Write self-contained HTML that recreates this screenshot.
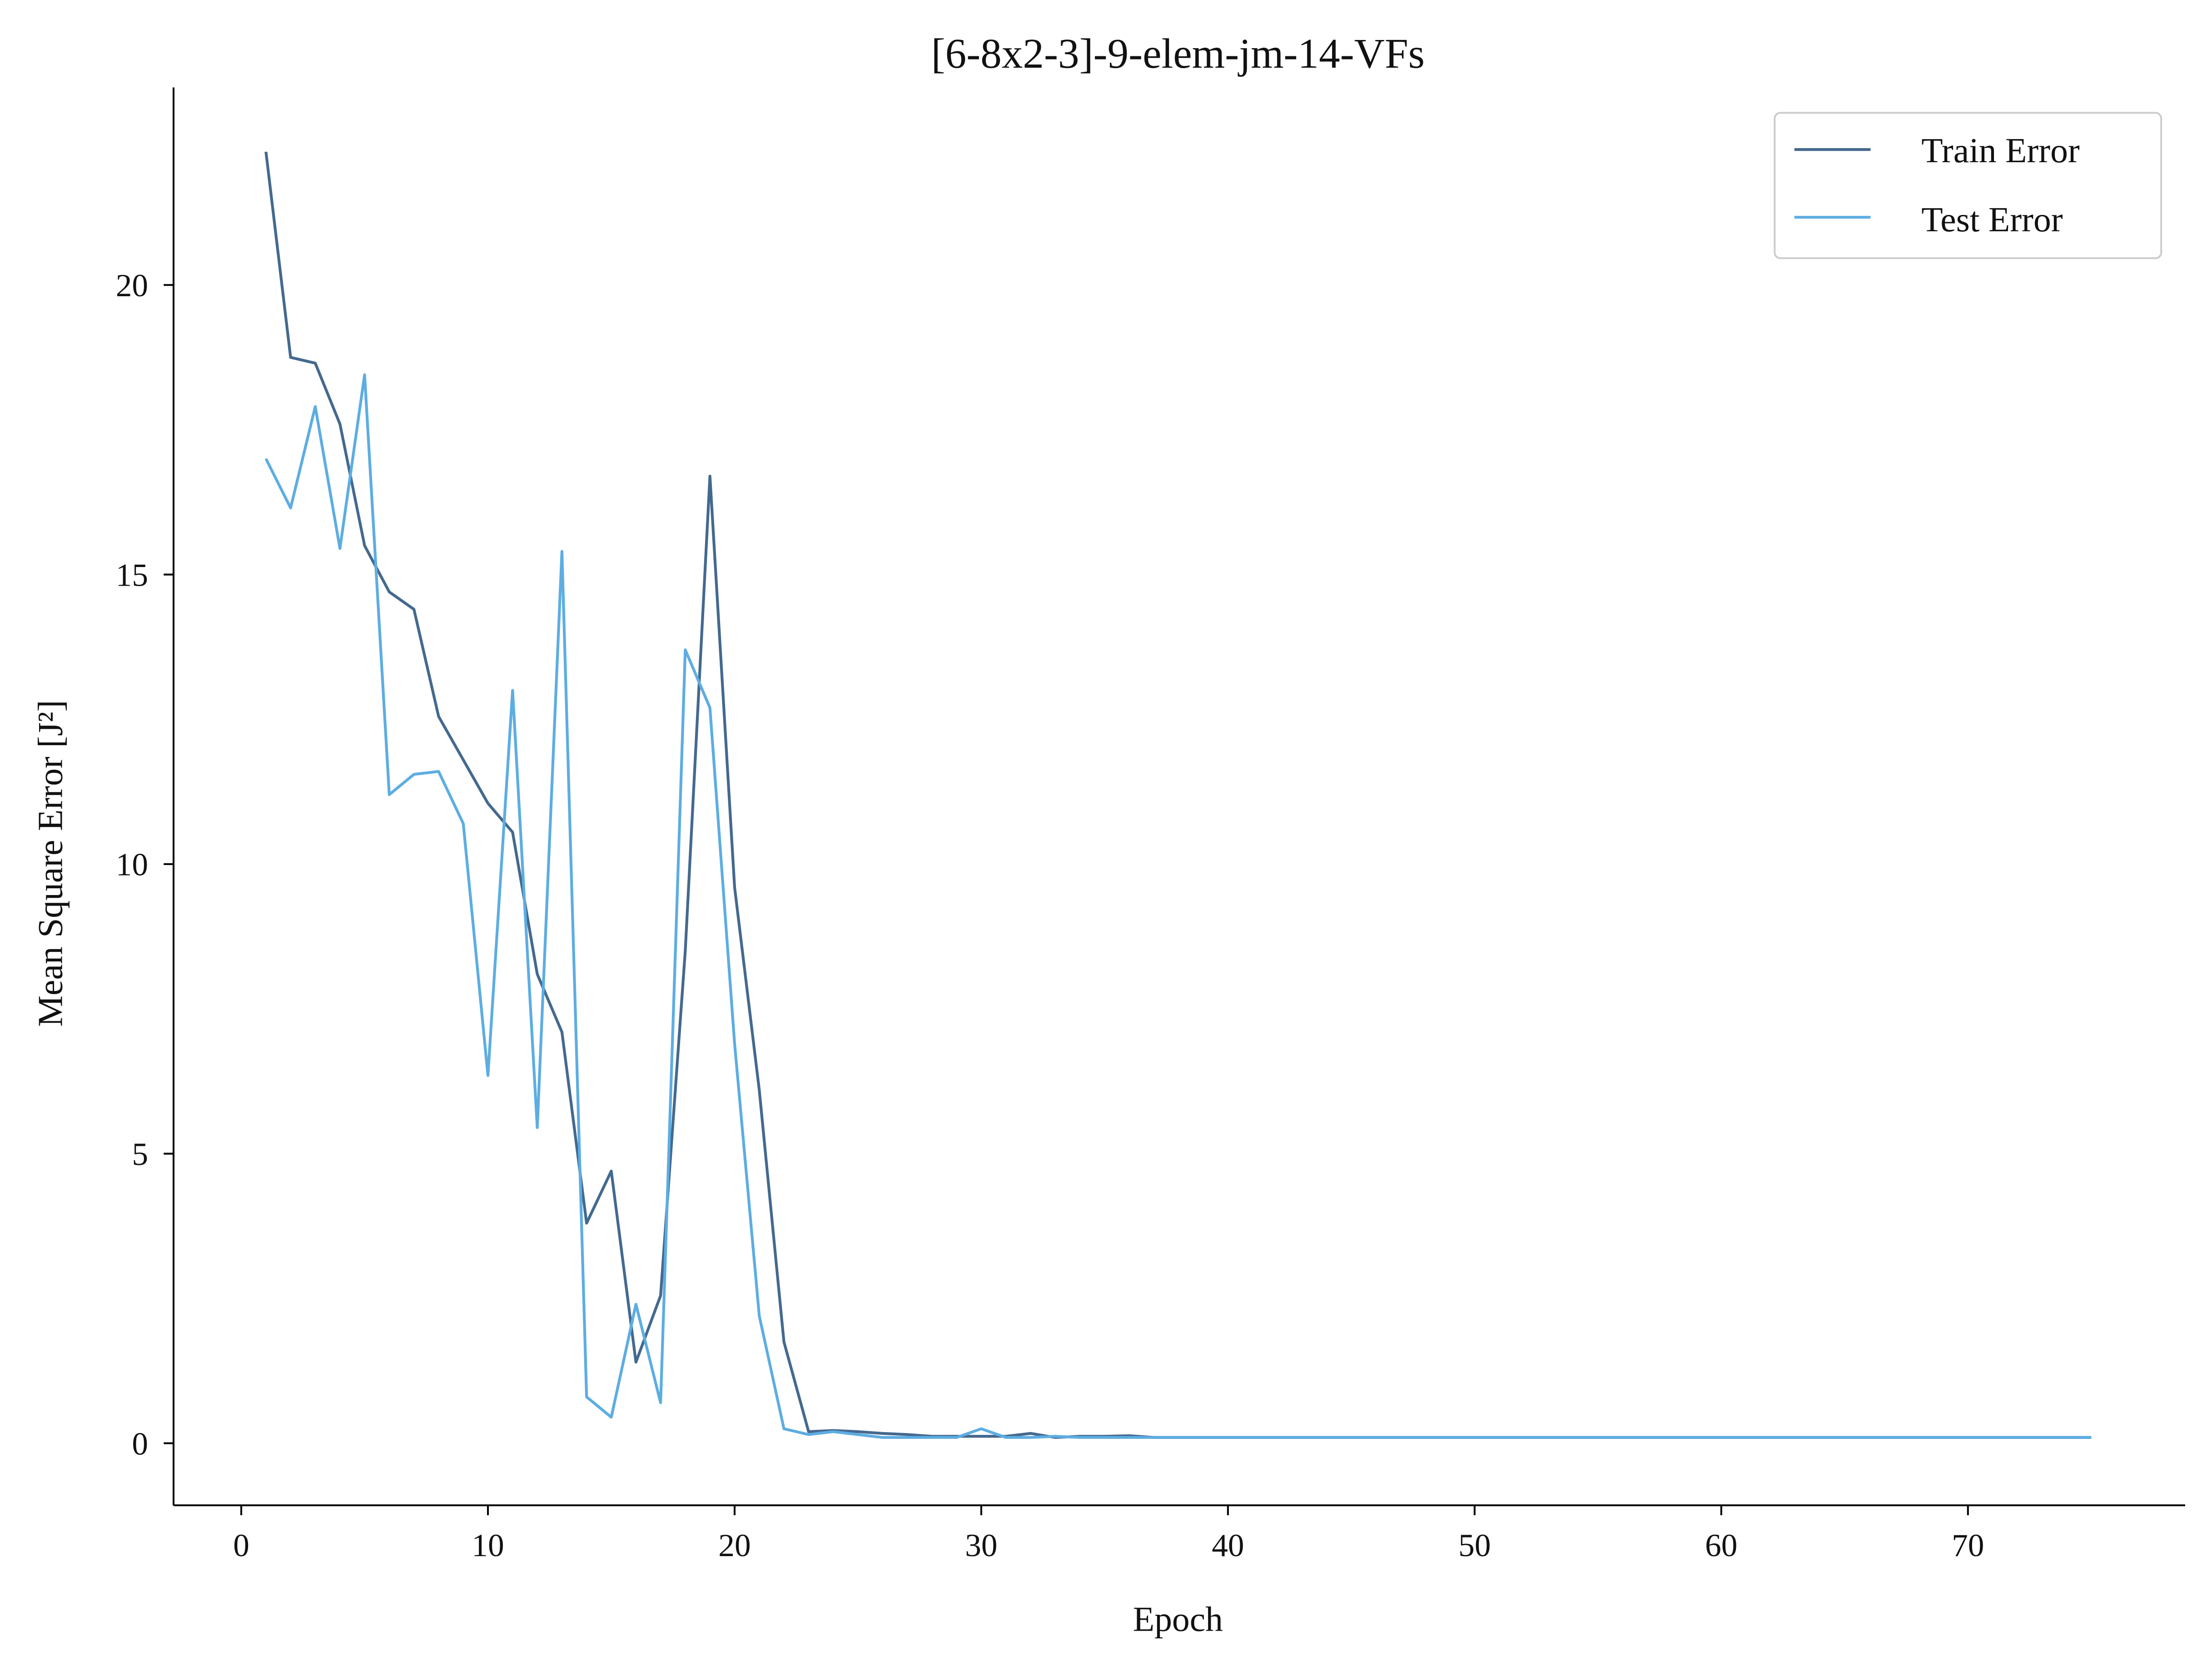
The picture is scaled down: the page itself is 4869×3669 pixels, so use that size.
<!DOCTYPE html>
<html><head><meta charset="utf-8"><style>html,body{margin:0;padding:0;background:#fff}svg{display:block}text{font-family:"Liberation Serif","DejaVu Serif",serif;fill:#111}</style></head>
<body>
<svg id="chart" width="4869" height="3669" viewBox="0 0 1568 1181.6" xmlns="http://www.w3.org/2000/svg">
<rect width="1568" height="1181.6" fill="#fff"/>
<text x="835" y="48" font-size="30" text-anchor="middle">[6-8x2-3]-9-elem-jm-14-VFs</text>
<g id="axes"></g>
<g id="series"></g>
<text x="835" y="1156" font-size="25" text-anchor="middle">Epoch</text>
<text transform="translate(44,612) rotate(-90)" font-size="25" text-anchor="middle">Mean Square Error [J²]</text>
<g>
<rect x="1258" y="80" width="274" height="103" rx="4" fill="#fff" stroke="#ccc" stroke-width="1.3"/>
<line x1="1272" y1="106" x2="1326" y2="106" stroke="#44698f" stroke-width="2"/>
<text x="1362" y="115" font-size="25">Train Error</text>
<line x1="1272" y1="154" x2="1326" y2="154" stroke="#5dade2" stroke-width="2"/>
<text x="1362" y="164" font-size="25">Test Error</text>
</g>
</svg>
<script>
const xTicks=[0,10,20,30,40,50,60,70];
const yTicks=[0,5,10,15,20];
const trainErr=[22.3,18.75,18.65,17.6,15.5,14.7,14.4,12.55,11.8,11.05,10.55,8.1,7.1,3.8,4.7,1.4,2.55,8.5,16.7,9.6,6.1,1.75,0.2,0.22,0.2,0.17,0.15,0.12,0.12,0.12,0.12,0.17,0.1,0.12,0.12,0.13,0.1,0.1,0.1,0.1,0.1,0.1,0.1,0.1,0.1,0.1,0.1,0.1,0.1,0.1,0.1,0.1,0.1,0.1,0.1,0.1,0.1,0.1,0.1,0.1,0.1,0.1,0.1,0.1,0.1,0.1,0.1,0.1,0.1,0.1,0.1,0.1,0.1,0.1,0.1];
const testErr=[17.0,16.15,17.9,15.45,18.45,11.2,11.55,11.6,10.7,6.35,13.0,5.45,15.4,0.8,0.45,2.4,0.7,13.7,12.7,6.9,2.2,0.25,0.15,0.2,0.15,0.1,0.1,0.1,0.1,0.25,0.1,0.1,0.12,0.1,0.1,0.1,0.1,0.1,0.1,0.1,0.1,0.1,0.1,0.1,0.1,0.1,0.1,0.1,0.1,0.1,0.1,0.1,0.1,0.1,0.1,0.1,0.1,0.1,0.1,0.1,0.1,0.1,0.1,0.1,0.1,0.1,0.1,0.1,0.1,0.1,0.1,0.1,0.1,0.1,0.1];
const NS='http://www.w3.org/2000/svg';
const X=v=>171+v*17.486, Y=v=>1023-v*41.05;
const ax=document.getElementById('axes'), se=document.getElementById('series');
function mk(p,t,a){const e=document.createElementNS(NS,t);for(const k in a)e.setAttribute(k,a[k]);p.appendChild(e);return e;}
const sl=mk(ax,'line',{x1:123,y1:62,x2:123,y2:1067,stroke:'#000','stroke-width':1.3});


const sb=mk(ax,'line',{x1:123,y1:1067,x2:1549,y2:1067,stroke:'#000','stroke-width':1.3});


xTicks.forEach(t=>{const x=X(t);
 const l=mk(ax,'line',{x1:x,y1:1067,x2:x,y2:1074,stroke:'#000','stroke-width':1.3});
 
 
 const tx=mk(ax,'text',{x:x,y:1103,'font-size':23,'text-anchor':'middle'});tx.textContent=t;
 
 
});
yTicks.forEach(t=>{const y=Y(t);
 const l=mk(ax,'line',{x1:116,y1:y,x2:123,y2:y,stroke:'#000','stroke-width':1.3});
 
 
 const tx=mk(ax,'text',{x:105,y:y+8,'font-size':23,'text-anchor':'end'});tx.textContent=t;
 
 
});
function line(d,c,n){const p=mk(se,'polyline',{points:d.map((v,i)=>X(i+1)+','+Y(v)).join(' '),fill:'none',stroke:c,'stroke-width':2,'stroke-linejoin':'round'});
 
 }
line(trainErr,'#44698f','train-error-line');
line(testErr,'#5dade2','test-error-line');
</script>
</body></html>
